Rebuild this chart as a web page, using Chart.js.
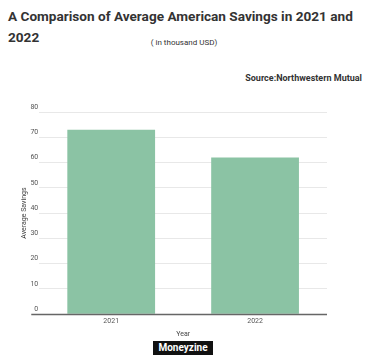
<!DOCTYPE html>
<html>
<head>
<meta charset="utf-8">
<script src="https://cdn.jsdelivr.net/npm/chart.js@4/dist/chart.umd.min.js"></script>
<style>
  html, body { margin: 0; padding: 0; background: #fff; }
  body { width: 367px; height: 364px; position: relative; overflow: hidden; font-family: Roboto, sans-serif; }
  #title { position: absolute; left: 8px; top: 6px; font-size: 13.6px; font-weight: bold; color: #333; line-height: 21px; white-space: nowrap; }
  #sub { position: absolute; left: 0; width: 368px; text-align: center; top: 38px; font-size: 8px; color: #333; }
  #source { position: absolute; right: 5px; top: 73px; font-size: 9px; font-weight: bold; color: #333; }
  #logo { position: absolute; left: 153px; top: 341px; width: 60px; height: 14px; background: #111; color: #fff; font-size: 10px; font-weight: bold; text-align: center; line-height: 14px; }
  #chart { position: absolute; left: 0; top: 0; }
</style>
</head>
<body>
<div id="title">A Comparison of Average American Savings in 2021 and<br>2022</div>
<div id="sub">( in thousand USD)</div>
<div id="source">Source:Northwestern Mutual</div>
<canvas id="chart" width="367" height="364"></canvas>
<div id="logo">Moneyzine</div>
<script>
(function(){
  'use strict';

  const years   = ['2021', '2022'];
  const savings = [73, 62];
  const yTicks  = { min: 0, max: 80, step: 10 };

  // dark baseline at zero, running a little under the tick labels
  const baseline = {
    id: 'baseline',
    afterDatasetsDraw: function(chart){
      const ctx = chart.ctx;
      const area = chart.chartArea;
      const y = Math.round(chart.scales.y.getPixelForValue(0)) + 0.5;
      ctx.save();
      ctx.strokeStyle = '#666';
      ctx.lineWidth = 1.5;
      ctx.beginPath();
      ctx.moveTo(area.left - 8, y);
      ctx.lineTo(area.right, y);
      ctx.stroke();
      ctx.restore();
    }
  };

  new Chart(document.getElementById('chart').getContext('2d'), {
    type: 'bar',
    data: {
      labels: years,
      datasets: [{
        label: 'Average Savings',
        data: savings,
        backgroundColor: '#8bc3a4',
        borderWidth: 0,
        barPercentage: 0.61,
        categoryPercentage: 1.0
      }]
    },
    options: {
      responsive: false,
      devicePixelRatio: 1,
      animation: false,
      layout: { padding: { top: 112, right: 40, bottom: 26, left: 20 } },
      plugins: { legend: { display: false }, tooltip: { enabled: false } },
      scales: {
        x: {
          grid: { display: false, drawTicks: false },
          border: { display: false },
          ticks: { font: { family: 'Roboto', size: 7 }, color: '#555', padding: 3 },
          title: { display: true, text: 'Year', font: { family: 'Roboto', size: 7 }, color: '#444', padding: { top: 1, bottom: 0 } }
        },
        y: {
          min: yTicks.min, max: yTicks.max,
          grid: { color: '#e8e8e8', drawTicks: false },
          border: { display: false },
          ticks: {
            stepSize: yTicks.step,
            font: { family: 'Roboto', size: 7 }, color: '#555',
            padding: 1, labelOffset: -5
          },
          title: { display: true, text: 'Average Savings', font: { family: 'Roboto', size: 7 }, color: '#444', padding: { top: 0, bottom: 1 } }
        }
      }
    },
    plugins: [baseline]
  });
})();
</script>
</body>
</html>
